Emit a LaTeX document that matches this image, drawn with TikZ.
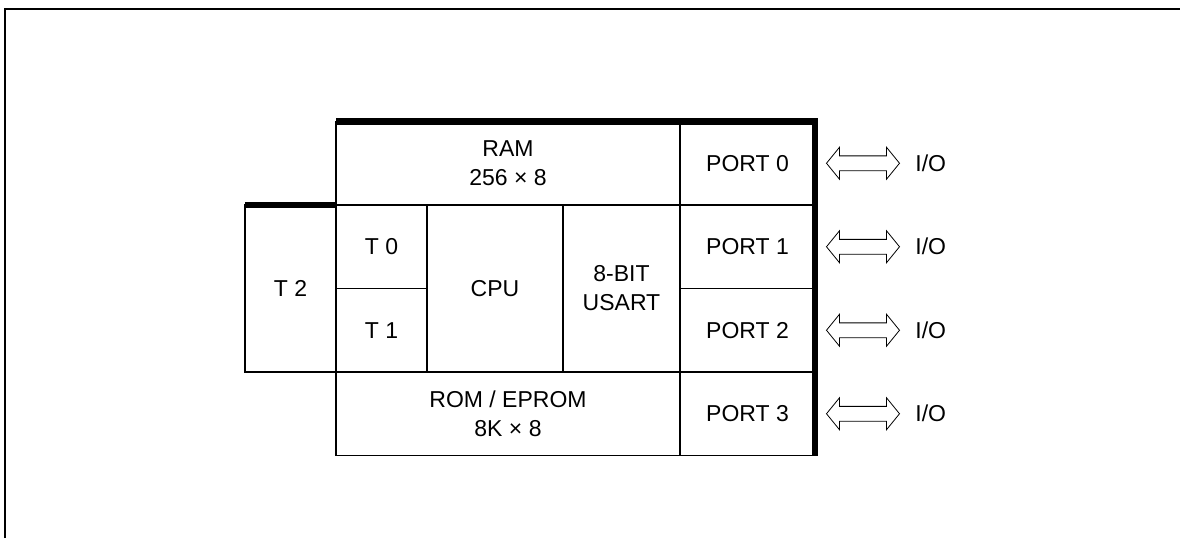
\documentclass[tikz,border=0pt]{standalone}
\usepackage{fontspec}
\setmainfont{Liberation Sans}
\usetikzlibrary{positioning,calc}
\tikzset{
  blk/.style={draw=black, line width=0.7pt, inner sep=0pt, outer sep=0pt, align=center, font=\fontsize{11.5}{14.5}\selectfont},
  wide/.style={blk, minimum width=172pt, minimum height=41.75pt},
  port/.style={blk, minimum width=67.5pt, minimum height=41.75pt},
  tmr/.style={blk, minimum width=45.5pt, minimum height=41.75pt},
  tall/.style={blk, minimum height=83.5pt},
  iolbl/.style={inner sep=0pt, font=\fontsize{11.5}{14}\selectfont},
  heavy/.style={line width=3.2pt},
  frameln/.style={line width=0.6pt},
  ioarrow/.pic={
    \draw[line width=0.4pt] (-18.25,0) -- (-11.75,8) -- (-11.75,3.7) -- (11.75,3.7) -- (11.75,8)
      -- (18.25,0) -- (11.75,-8) -- (11.75,-3.7) -- (-11.75,-3.7) -- (-11.75,-8) -- cycle;
  }
}

\begin{document}
\begin{tikzpicture}[x=1pt, y=1pt]
  \useasboundingbox (0,0) rectangle (590,269);
  \draw[frameln] (2.5,0) -- (2.5,264.5) -- (590,264.5);

  % memory, timers, cpu, serial
  \node[wide, anchor=north west] (ram) at (168,208.25) {RAM\\256 × 8};
  \node[port, anchor=north west] (p0) at (ram.north east) {PORT 0};
  \node[tmr, anchor=north west] (t0) at (ram.south west) {T 0};
  \node[tmr, anchor=north west] (t1) at (t0.south west) {T 1};
  \node[tall, minimum width=45.5pt, anchor=north east] (t2) at (t0.north west) {T 2};
  \node[tall, minimum width=68pt, anchor=north west] (cpu) at (t0.north east) {CPU};
  \node[tall, minimum width=58.5pt, anchor=north west] (usart) at (cpu.north east) {8-BIT\\USART};
  \node[port, anchor=north west] (p1) at (usart.north east) {PORT 1};
  \node[port, anchor=north west] (p2) at (p1.south west) {PORT 2};
  \node[wide, anchor=north west] (rom) at (t1.south west) {ROM / EPROM\\8K × 8};
  \node[port, anchor=north west] (p3) at (rom.north east) {PORT 3};

  \draw[heavy] (ram.north west) -- (p0.north east) -- (p3.south east);
  \draw[heavy] (t2.north west) -- (t2.north east);

  % i/o lines
  \node[iolbl, right=50pt of p0] (io0) {I/O};
  \node[iolbl, right=50pt of p1] (io1) {I/O};
  \node[iolbl, right=50pt of p2] (io2) {I/O};
  \node[iolbl, right=50pt of p3] (io3) {I/O};
  \pic at ($(p0.east)!0.48!(io0.west)$) {ioarrow};
  \pic at ($(p1.east)!0.48!(io1.west)$) {ioarrow};
  \pic at ($(p2.east)!0.48!(io2.west)$) {ioarrow};
  \pic at ($(p3.east)!0.48!(io3.west)$) {ioarrow};
\end{tikzpicture}
\end{document}
